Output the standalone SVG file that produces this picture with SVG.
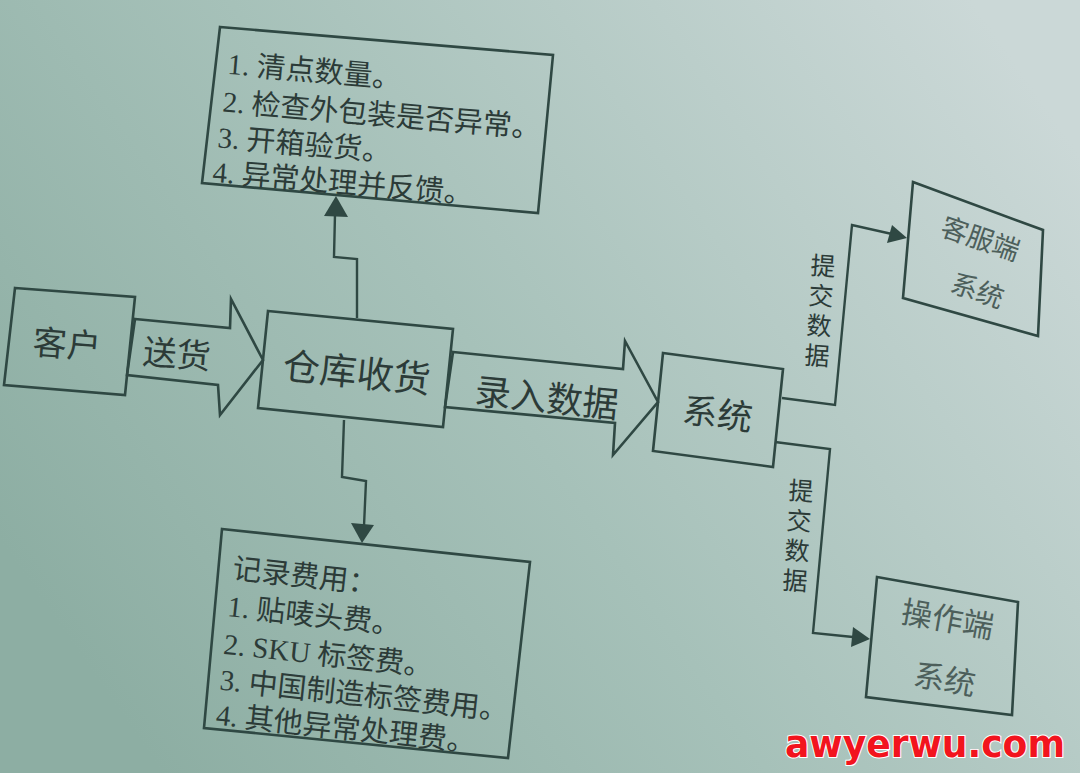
<svg xmlns="http://www.w3.org/2000/svg" width="1080" height="773" viewBox="0 0 1080 773">
<defs>
<linearGradient id="paper" x1="0" y1="0.7" x2="1" y2="0.2">
<stop offset="0" stop-color="#8daea3"/>
<stop offset="0.45" stop-color="#a6c1b9"/>
<stop offset="1" stop-color="#cbd8d7"/>
</linearGradient>
<style>
.box{fill:none;stroke:#2f4843;stroke-width:2.6;stroke-linejoin:miter}
.con{fill:none;stroke:#2f4843;stroke-width:2.4}
.head{fill:#2f4843;stroke:none}
.lbl{font-family:"Noto Sans CJK SC","Noto Sans",sans-serif;fill:#2c3b38;text-anchor:middle;dominant-baseline:central}
.vert{font-family:"Noto Sans CJK SC","Noto Sans",sans-serif;fill:#2c3b38;font-size:25px;writing-mode:vertical-rl;text-anchor:middle;letter-spacing:5px}
.lst{font-family:"Liberation Serif","Noto Sans CJK SC",serif;fill:#2c3b38;font-size:29px}
.soft{fill:#4d5f5b}
</style>
</defs>
<rect x="0" y="0" width="1080" height="773" fill="url(#paper)"/>

<g id="connectors">
<polygon class="box" points="135,319 230,328 231,299 263,360 220,415 218,385 127,375"/>
<polygon class="box" points="453,352 623,369 625,341 658,402 613,455 615,423 445,407"/>
<path class="con" d="M357,318 L357,259 L334,257 L335,214"/>
<polygon class="head" points="336,196 324,216 348,217"/>
<path class="con" d="M344,420 L342,477 L366,481 L364,526"/>
<polygon class="head" points="362,543 351,523 374,525"/>
<path class="con" d="M782,398 L835,405 L852,225 L892,234"/>
<polygon class="head" points="907,238 887,243 892,225"/>
<path class="con" d="M775,442 L830,449 L813,633 L853,637"/>
<polygon class="head" points="870,639 851,647 853,627"/>
<text class="vert" x="820" y="313" transform="rotate(3.8 820 313)">提交数据</text>
<text class="vert" x="798" y="538" transform="rotate(3.8 798 538)">提交数据</text>
<text class="lbl" font-size="34" transform="rotate(4.5 177 352)" x="177" y="352">送货</text>
<text class="lbl" font-size="36" transform="rotate(5.7 547 395)" x="547" y="395">录入数据</text>
</g>

<g id="node-customer">
<polygon class="box" points="15,288 135,297 125,395 4,385"/>
<text class="lbl" font-size="34" transform="rotate(4.3 67 342)" x="67" y="342">客户</text>
</g>

<g id="node-warehouse">
<polygon class="box" points="268,311 453,329 443,427 258,408"/>
<text class="lbl" font-size="37" transform="rotate(5.6 357 370)" x="357" y="370">仓库收货</text>
</g>

<g id="node-checks">
<polygon class="box" points="220,27 553,55 538,213 202,183"/>
<g transform="rotate(4.8 220 27)">
<text class="lst" x="231" y="73">1. 清点数量。</text>
<text class="lst" x="229" y="111">2. 检查外包装是否异常。</text>
<text class="lst" x="227" y="147">3. 开箱验货。</text>
<text class="lst" x="225" y="182">4. 异常处理并反馈。</text>
</g>
</g>

<g id="node-fees">
<polygon class="box" points="222,529 530,562 508,758 204,728"/>
<g transform="rotate(6.1 222 529)">
<text class="lst" font-size="28" x="237" y="577">记录费用：</text>
<text class="lst" font-size="28" x="236" y="615">1. 贴唛头费。</text>
<text class="lst" font-size="28" x="236" y="653">2. SKU 标签费。</text>
<text class="lst" font-size="28" x="236" y="689">3. 中国制造标签费用。</text>
<text class="lst" font-size="28" x="236" y="724">4. 其他异常处理费。</text>
</g>
</g>

<g id="node-system">
<polygon class="box" points="663,353 783,369 773,467 653,451"/>
<text class="lbl" font-size="35" transform="rotate(7.6 718 411)" x="718" y="411">系统</text>
</g>

<g id="node-cs">
<polygon class="box" points="913,182 1043,230 1038,336 903,298"/>
<text class="lbl soft" font-size="27" transform="rotate(19 981 237)" x="981" y="237">客服端</text>
<text class="lbl soft" font-size="27" transform="rotate(19 978 289)" x="978" y="289">系统</text>
</g>

<g id="node-ops">
<polygon class="box" points="877,577 1018,602 1012,715 866,697"/>
<text class="lbl soft" font-size="31" transform="rotate(10 948 617)" x="948" y="617">操作端</text>
<text class="lbl soft" font-size="31" transform="rotate(10 945 677)" x="945" y="677">系统</text>
</g>

<text x="785" y="757" font-family="DejaVu Sans, sans-serif" font-weight="bold" font-size="37" fill="#f2141e" stroke="#ffffff" stroke-width="2" paint-order="stroke" textLength="280" lengthAdjust="spacingAndGlyphs">awyerwu.com</text>
</svg>
